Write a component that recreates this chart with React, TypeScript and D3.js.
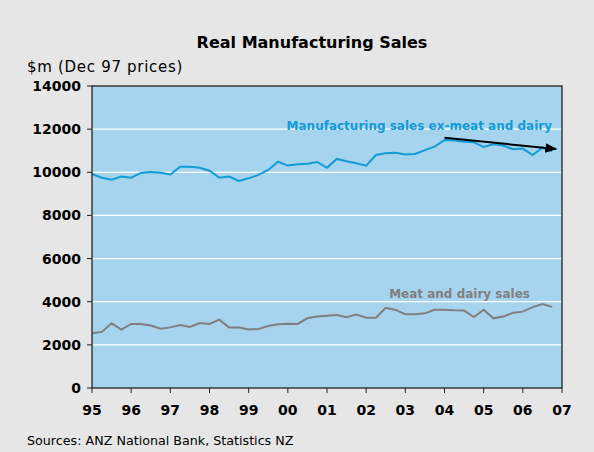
import React from 'react'
import * as d3 from 'd3'

// quarterly, 1995 Q1 .. 2006 Q4
const startYear = 1995
const exMeatDairy = [
  9920, 9750, 9660, 9800, 9750, 9970, 10010, 9980,
  9900, 10260, 10260, 10210, 10070, 9750, 9800, 9600,
  9720, 9880, 10110, 10490, 10310, 10370, 10400, 10480,
  10210, 10620, 10510, 10420, 10310, 10800, 10880, 10910,
  10830, 10850, 11030, 11190, 11500, 11470, 11420, 11390,
  11170, 11300, 11240, 11070, 11100, 10800, 11140, 10990
]
const meatDairy = [
  2540, 2600, 3000, 2710, 2970, 2970, 2900, 2750,
  2810, 2920, 2830, 3010, 2970, 3170, 2810, 2800,
  2710, 2740, 2870, 2950, 2980, 2970, 3230, 3310,
  3350, 3380, 3280, 3410, 3260, 3260, 3720, 3620,
  3420, 3420, 3460, 3630, 3630, 3600, 3590, 3290,
  3630, 3230, 3310, 3490, 3540, 3750, 3890, 3760
]
const yTicks = [0, 2000, 4000, 6000, 8000, 10000, 12000, 14000]
const xTickLabels = ['95', '96', '97', '98', '99', '00', '01', '02', '03', '04', '05', '06', '07']

const App = () => {
  const width = 594
  const height = 452
  const left = 92
  const right = 562
  const top = 86
  const bottom = 388

  const x = d3.scaleLinear().domain([1995, 2007]).range([left, right])
  const y = d3.scaleLinear().domain([0, 14000]).range([bottom, top])

  const line = d3
    .line<number>()
    .x((d, i) => x(startYear + i / 4))
    .y(d => y(d))

  const font = 'DejaVu Sans, Verdana, sans-serif'

  return (
    <svg width={width} height={height} style={{position: 'absolute', left: 0, top: 0}}>
      <defs>
        <marker id="arrow" viewBox="0 0 10 10" refX="9" refY="5" markerWidth="6" markerHeight="6" orient="auto">
          <path d="M0,1 L10,5 L0,9 z" fill="#000" />
        </marker>
      </defs>
      <rect x={0} y={0} width={width} height={height} fill="#e6e6e6" />
      <rect x={left} y={top} width={right - left} height={bottom - top} fill="#a6d4ee" />

      {/* gridlines */}
      {yTicks.slice(1, -1).map(t => (
        <line key={t} x1={left} x2={right} y1={y(t)} y2={y(t)} stroke="#fff" strokeWidth={1.2} />
      ))}

      <path d={line(exMeatDairy) || ''} fill="none" stroke="#129bd6" strokeWidth={2} />
      <path d={line(meatDairy) || ''} fill="none" stroke="#7f7f7f" strokeWidth={2} />

      {/* frame */}
      <rect x={left} y={top} width={right - left} height={bottom - top} fill="none" stroke="#222" strokeWidth={1.3} />

      {/* y axis */}
      {yTicks.map(t => (
        <g key={t}>
          <line x1={left - 5} x2={left} y1={y(t)} y2={y(t)} stroke="#222" />
          <text x={left - 11} y={y(t)} dy="0.36em" textAnchor="end" fontFamily={font} fontWeight="bold" fontSize={14}>
            {t}
          </text>
        </g>
      ))}

      {/* x axis */}
      {xTickLabels.map((lab, i) => (
        <g key={lab}>
          <line x1={x(1995 + i)} x2={x(1995 + i)} y1={bottom} y2={bottom + 5} stroke="#222" />
          <text x={x(1995 + i)} y={415} textAnchor="middle" fontFamily={font} fontWeight="bold" fontSize={14}>
            {lab}
          </text>
        </g>
      ))}

      <text x={312} y={48} textAnchor="middle" fontFamily={font} fontWeight="bold" fontSize={16}>
        Real Manufacturing Sales
      </text>
      <text x={27} y={72} fontFamily={font} fontSize={15} letterSpacing={0.7}>
        $m (Dec 97 prices)
      </text>
      <text x={27} y={445} fontFamily={font} fontSize={12.7}>
        Sources: ANZ National Bank, Statistics NZ
      </text>

      <text x={552} y={130} textAnchor="end" fontFamily={font} fontWeight="bold" fontSize={12} fill="#129bd6">
        Manufacturing sales ex-meat and dairy
      </text>
      <text x={530} y={298} textAnchor="end" fontFamily={font} fontWeight="bold" fontSize={12} fill="#7f7f7f">
        Meat and dairy sales
      </text>

      <line x1={x(2004)} y1={y(11600)} x2={x(2006.85)} y2={y(11080)} stroke="#000" strokeWidth={2} markerEnd="url(#arrow)" />
    </svg>
  )
}

export default App
